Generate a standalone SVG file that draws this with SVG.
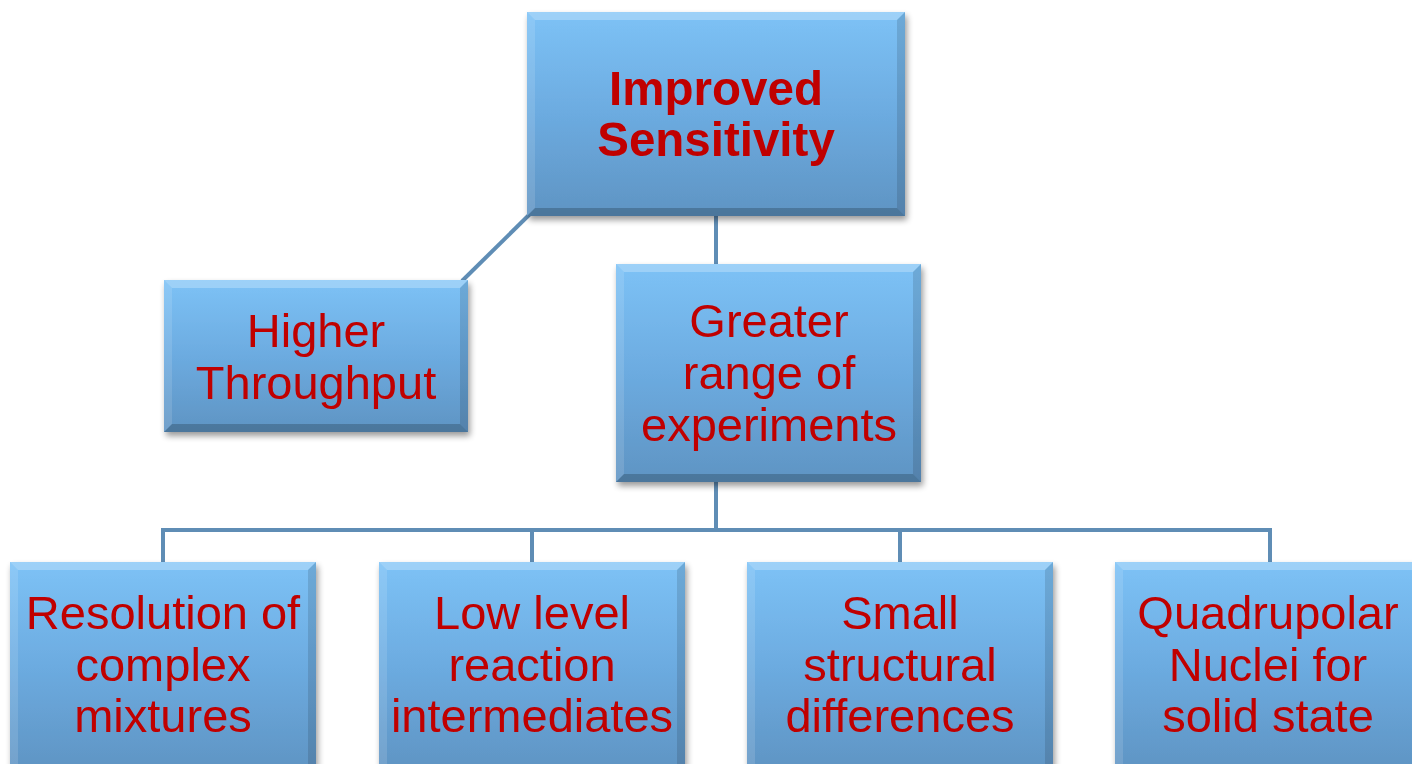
<svg xmlns="http://www.w3.org/2000/svg" width="1412" height="764" viewBox="0 0 1412 764">
<style>
.conn{stroke:#5F8DB5;stroke-width:4;fill:none}
.box{fill:url(#g)}
.t{font-family:"Liberation Sans",Arial,sans-serif;font-size:47px;fill:#C00000;text-anchor:middle}
.b{font-weight:bold;font-size:47.5px}
</style>
<defs>
<linearGradient id="g" x1="0" y1="0" x2="0" y2="1">
<stop offset="0" stop-color="#7DC2F6"/>
<stop offset="0.5" stop-color="#6CABE0"/>
<stop offset="1" stop-color="#5F94C3"/>
</linearGradient>
<filter id="sh" x="-10%" y="-10%" width="125%" height="130%">
<feGaussianBlur in="SourceAlpha" stdDeviation="3"/>
<feOffset dx="2" dy="4" result="o"/>
<feComponentTransfer><feFuncA type="linear" slope="0.4"/></feComponentTransfer>
<feMerge><feMergeNode/><feMergeNode in="SourceGraphic"/></feMerge>
</filter>
</defs>
<rect width="1412" height="764" fill="#FFFFFF"/>
<g id="connectors">
<line class="conn" x1="716" y1="216" x2="716" y2="265"/>
<line class="conn" x1="530" y1="214" x2="462" y2="281"/>
<polyline class="conn" points="716,482 716,530"/>
<polyline class="conn" points="163,563 163,530 1270,530 1270,563"/>
<line class="conn" x1="532" y1="530" x2="532" y2="563"/>
<line class="conn" x1="900" y1="530" x2="900" y2="563"/>
</g>
<g id="n-top" filter="url(#sh)">
<rect class="box" x="527" y="12" width="378" height="204"/>
<polygon points="527,12 905,12 897,20 535,20" fill="#FFFFFF" opacity="0.25"/>
<polygon points="527,12 535,20 535,208 527,216" fill="#FFFFFF" opacity="0.12"/>
<polygon points="905,12 897,20 897,208 905,216" fill="#000000" opacity="0.12"/>
<polygon points="527,216 535,208 897,208 905,216" fill="#000000" opacity="0.2"/>
<text class="t b" x="716" y="105">Improved</text>
<text class="t b" x="716" y="156">Sensitivity</text>
</g>
<g id="n-higher" filter="url(#sh)">
<rect class="box" x="164" y="280" width="304" height="152"/>
<polygon points="164,280 468,280 460,288 172,288" fill="#FFFFFF" opacity="0.25"/>
<polygon points="164,280 172,288 172,424 164,432" fill="#FFFFFF" opacity="0.12"/>
<polygon points="468,280 460,288 460,424 468,432" fill="#000000" opacity="0.12"/>
<polygon points="164,432 172,424 460,424 468,432" fill="#000000" opacity="0.2"/>
<text class="t" x="316" y="347">Higher</text>
<text class="t" x="316" y="399">Throughput</text>
</g>
<g id="n-greater" filter="url(#sh)">
<rect class="box" x="616" y="264" width="305" height="218"/>
<polygon points="616,264 921,264 913,272 624,272" fill="#FFFFFF" opacity="0.25"/>
<polygon points="616,264 624,272 624,474 616,482" fill="#FFFFFF" opacity="0.12"/>
<polygon points="921,264 913,272 913,474 921,482" fill="#000000" opacity="0.12"/>
<polygon points="616,482 624,474 913,474 921,482" fill="#000000" opacity="0.2"/>
<text class="t" x="769" y="337">Greater</text>
<text class="t" x="769" y="389">range of</text>
<text class="t" x="769" y="441">experiments</text>
</g>
<g id="n-resolution" filter="url(#sh)">
<rect class="box" x="10" y="562" width="306" height="210"/>
<polygon points="10,562 316,562 308,570 18,570" fill="#FFFFFF" opacity="0.25"/>
<polygon points="10,562 18,570 18,772 10,772" fill="#FFFFFF" opacity="0.12"/>
<polygon points="316,562 308,570 308,772 316,772" fill="#000000" opacity="0.12"/>
<text class="t" x="163" y="629">Resolution of</text>
<text class="t" x="163" y="681">complex</text>
<text class="t" x="163" y="732">mixtures</text>
</g>
<g id="n-lowlevel" filter="url(#sh)">
<rect class="box" x="379" y="562" width="306" height="210"/>
<polygon points="379,562 685,562 677,570 387,570" fill="#FFFFFF" opacity="0.25"/>
<polygon points="379,562 387,570 387,772 379,772" fill="#FFFFFF" opacity="0.12"/>
<polygon points="685,562 677,570 677,772 685,772" fill="#000000" opacity="0.12"/>
<text class="t" x="532" y="629">Low level</text>
<text class="t" x="532" y="681">reaction</text>
<text class="t" x="532" y="732">intermediates</text>
</g>
<g id="n-small" filter="url(#sh)">
<rect class="box" x="747" y="562" width="306" height="210"/>
<polygon points="747,562 1053,562 1045,570 755,570" fill="#FFFFFF" opacity="0.25"/>
<polygon points="747,562 755,570 755,772 747,772" fill="#FFFFFF" opacity="0.12"/>
<polygon points="1053,562 1045,570 1045,772 1053,772" fill="#000000" opacity="0.12"/>
<text class="t" x="900" y="629">Small</text>
<text class="t" x="900" y="681">structural</text>
<text class="t" x="900" y="732">differences</text>
</g>
<g id="n-quadrupolar" filter="url(#sh)">
<rect class="box" x="1115" y="562" width="306" height="210"/>
<polygon points="1115,562 1421,562 1413,570 1123,570" fill="#FFFFFF" opacity="0.25"/>
<polygon points="1115,562 1123,570 1123,772 1115,772" fill="#FFFFFF" opacity="0.12"/>
<text class="t" x="1268" y="629">Quadrupolar</text>
<text class="t" x="1268" y="681">Nuclei for</text>
<text class="t" x="1268" y="732">solid state</text>
</g>
</svg>
